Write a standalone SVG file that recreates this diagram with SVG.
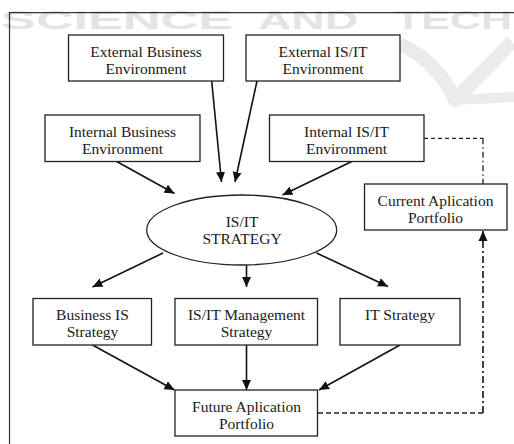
<svg xmlns="http://www.w3.org/2000/svg" width="514" height="444" viewBox="0 0 514 444">
<defs>
<marker id="ah" viewBox="0 0 10 10" refX="10" refY="5" markerWidth="10" markerHeight="10" markerUnits="userSpaceOnUse" orient="auto">
<path d="M0,0.5 L10,5 L0,9.5 z" fill="#111"/>
</marker>
</defs>
<style>
.box{fill:#fff;stroke:#222;stroke-width:1.3}
.t{font-family:"Liberation Serif","Times New Roman",serif;font-size:15.5px;fill:#1a1a1a;text-anchor:middle}
.c{stroke:#111;stroke-width:1.6;fill:none}
.wm{font-family:"Liberation Sans",Arial,sans-serif;font-weight:bold;font-size:25px;fill:#e4e4e4}
</style>
<rect width="514" height="444" fill="#fff"/>
<g id="watermark">
<text class="wm" x="1" y="29" textLength="232" lengthAdjust="spacingAndGlyphs">SCIENCE</text>
<text class="wm" x="258" y="29" textLength="100" lengthAdjust="spacingAndGlyphs">AND</text>
<text class="wm" x="395" y="29" textLength="117" lengthAdjust="spacingAndGlyphs">TECH</text>
<path d="M400,44 Q438,62 455,100 L512,42" fill="none" stroke="#ebebeb" stroke-width="14" stroke-linejoin="round"/>
<path d="M455,100 L514,97" fill="none" stroke="#ebebeb" stroke-width="10"/>
</g>
<g id="frame">
<path d="M9.5,444 L9.5,12.7 L514,12.7" fill="none" stroke="#333" stroke-width="1.2"/>
</g>
<g id="connectors">
<line class="c" x1="211.7" y1="81" x2="221.5" y2="182" marker-end="url(#ah)"/>
<line class="c" x1="257" y1="81" x2="235" y2="182" marker-end="url(#ah)"/>
<line class="c" x1="116.7" y1="161.5" x2="174.5" y2="193.5" marker-end="url(#ah)"/>
<line class="c" x1="351.7" y1="161.5" x2="282.5" y2="195" marker-end="url(#ah)"/>
<line class="c" x1="163" y1="253" x2="92.5" y2="287" marker-end="url(#ah)"/>
<line class="c" x1="246.5" y1="265" x2="246.5" y2="287" marker-end="url(#ah)"/>
<line class="c" x1="316.5" y1="253" x2="388" y2="286.5" marker-end="url(#ah)"/>
<line class="c" x1="92.5" y1="345" x2="174.5" y2="390" marker-end="url(#ah)"/>
<line class="c" x1="246.5" y1="345" x2="246.5" y2="390" marker-end="url(#ah)"/>
<line class="c" x1="400" y1="345" x2="319" y2="390" marker-end="url(#ah)"/>
<path d="M424,138.3 L483,138.3" fill="none" stroke="#222" stroke-width="1.3" stroke-dasharray="4,3"/>
<path d="M483,138.3 L483,184" fill="none" stroke="#222" stroke-width="1.3" stroke-dasharray="6,3,1.5,3"/>
<path d="M318,413 L483,413" fill="none" stroke="#222" stroke-width="1.3" stroke-dasharray="5,3"/>
<path d="M483,413 L483,241" fill="none" stroke="#222" stroke-width="1.7" stroke-dasharray="7,3,2,3"/>
<line class="c" x1="483" y1="242" x2="483" y2="231" marker-end="url(#ah)"/>
</g>
<g id="ext-business">
<rect class="box" x="68.5" y="35" width="155" height="46"/>
<text class="t" x="146" y="56.5">External Business</text>
<text class="t" x="146" y="74">Environment</text>
</g>
<g id="ext-isit">
<rect class="box" x="246" y="35" width="154" height="46"/>
<text class="t" x="323" y="56.5">External IS/IT</text>
<text class="t" x="323" y="74">Environment</text>
</g>
<g id="int-business">
<rect class="box" x="45" y="115" width="155" height="46.5"/>
<text class="t" x="122.5" y="136.5">Internal Business</text>
<text class="t" x="122.5" y="154">Environment</text>
</g>
<g id="int-isit">
<rect class="box" x="269.5" y="115" width="154.5" height="46.5"/>
<text class="t" x="346.5" y="136.5">Internal IS/IT</text>
<text class="t" x="346.5" y="154">Environment</text>
</g>
<g id="current-portfolio">
<rect class="box" x="364.5" y="184" width="142.5" height="46"/>
<text class="t" x="435.5" y="205.5">Current Aplication</text>
<text class="t" x="435.5" y="223">Portfolio</text>
</g>
<g id="isit-strategy">
<ellipse cx="241.7" cy="230" rx="95" ry="35" fill="#fff" stroke="#222" stroke-width="1.3"/>
<text class="t" x="242" y="226.5">IS/IT</text>
<text class="t" x="242" y="243.5">STRATEGY</text>
</g>
<g id="business-is">
<rect class="box" x="33" y="298.5" width="118.5" height="46.5"/>
<text class="t" x="92.5" y="320">Business IS</text>
<text class="t" x="92.5" y="337">Strategy</text>
</g>
<g id="isit-mgmt">
<rect class="box" x="175" y="298.5" width="142.5" height="46.5"/>
<text class="t" x="246.5" y="320">IS/IT Management</text>
<text class="t" x="246.5" y="337">Strategy</text>
</g>
<g id="it-strategy">
<rect class="box" x="340" y="298.5" width="120" height="46.5"/>
<text class="t" x="400" y="320">IT Strategy</text>
</g>
<g id="future-portfolio">
<rect class="box" x="175" y="390" width="142.5" height="46"/>
<text class="t" x="246.5" y="411.5">Future Aplication</text>
<text class="t" x="246.5" y="429">Portfolio</text>
</g>
</svg>
